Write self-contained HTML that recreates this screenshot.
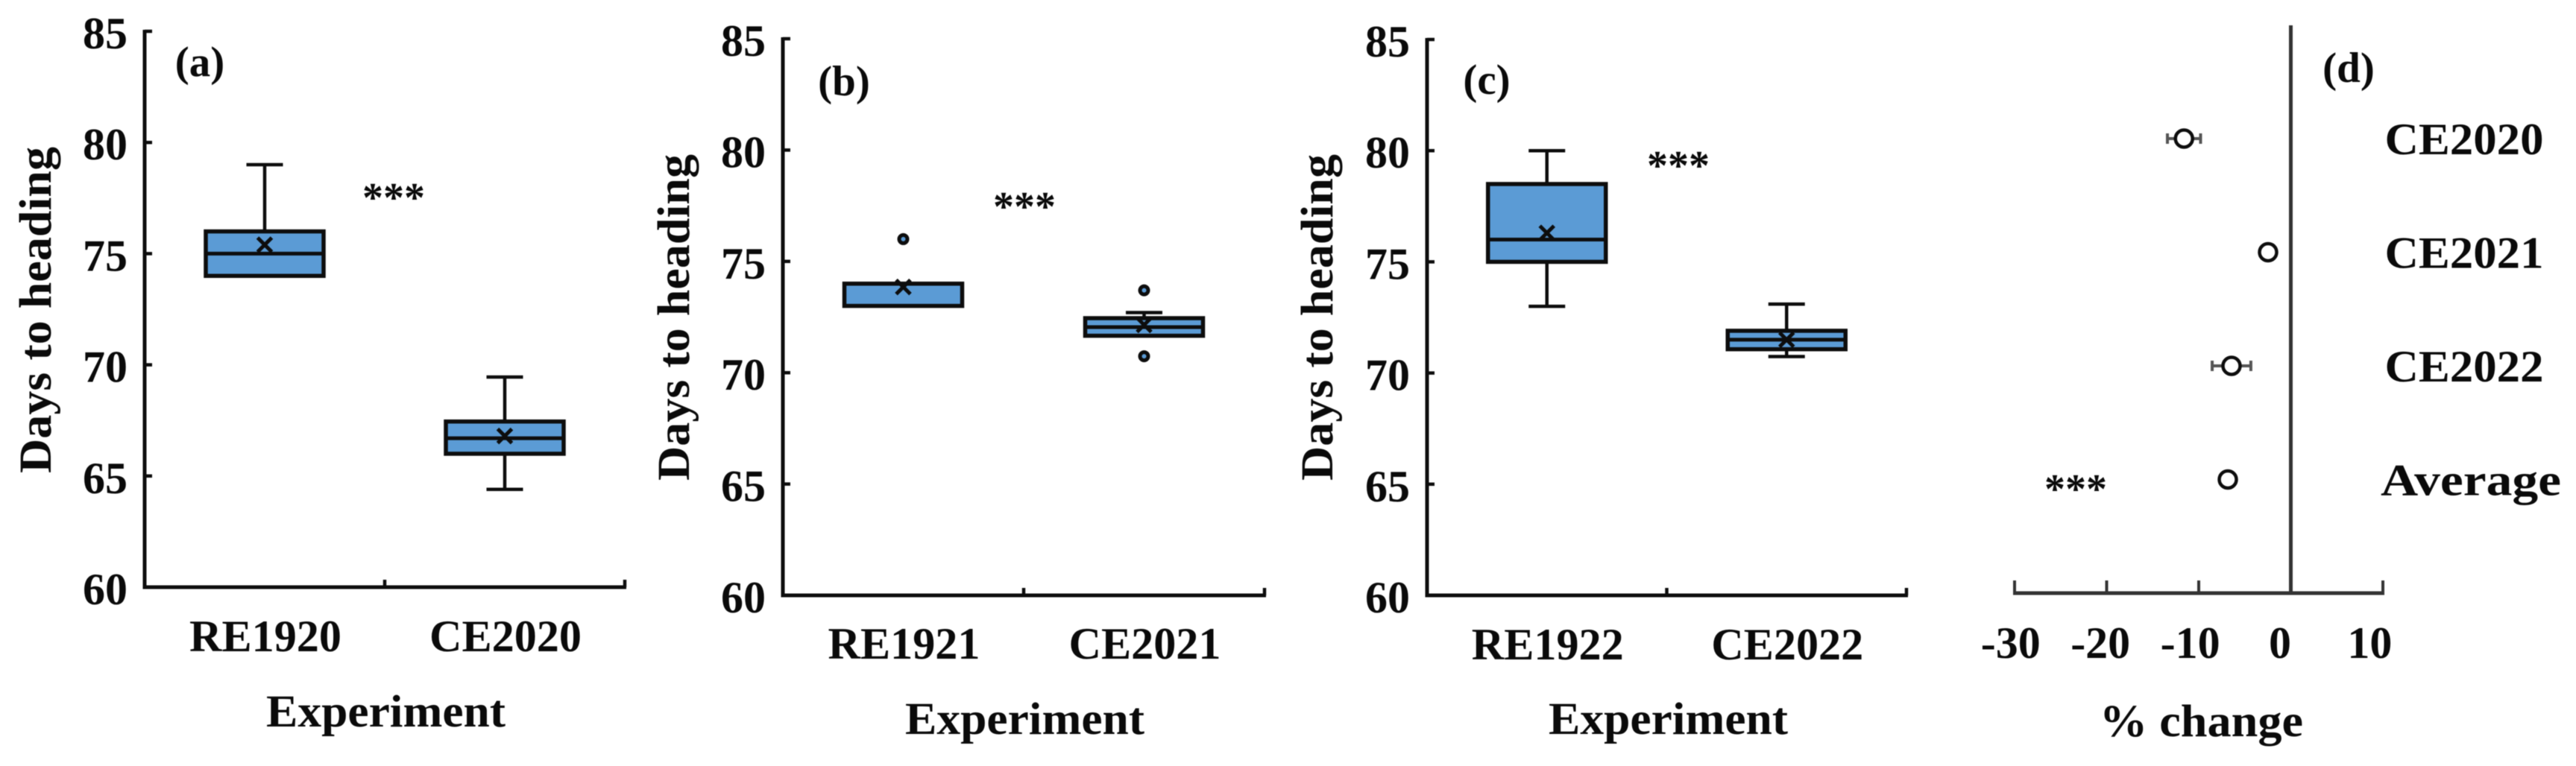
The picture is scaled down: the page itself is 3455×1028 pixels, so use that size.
<!DOCTYPE html>
<html lang="en">
<head>
<meta charset="utf-8">
<title>Days to heading by experiment</title>
<style>
  html, body { margin: 0; padding: 0; background: #fff; }
  body { width: 3455px; height: 1028px; overflow: hidden; }
  svg { display: block; filter: blur(0.6px); }
  text { font-family: "Liberation Serif", serif; font-weight: bold; fill: #0a0a0a; }
  .tick { font-size: 60px; }
  .title { font-size: 61px; }
  .panel-tag { font-size: 57px; }
  .stars { font-size: 56px; text-anchor: middle; }
</style>
</head>
<body>
<svg id="chart" xmlns="http://www.w3.org/2000/svg" width="3455" height="1028" viewBox="0 0 3455 1028">
  <rect x="0" y="0" width="3455" height="1028" fill="#ffffff"/>

  <text class="panel-tag" x="268" y="102" text-anchor="middle">(a)</text>
  <text class="panel-tag" x="1132" y="128" text-anchor="middle">(b)</text>
  <text class="panel-tag" x="1994" y="126" text-anchor="middle">(c)</text>
  <text class="panel-tag" x="3150" y="110" text-anchor="middle">(d)</text>

  <text class="stars" x="528" y="284">***</text>
  <text class="stars" x="1374" y="296">***</text>
  <text class="stars" x="2251" y="241">***</text>
  <text class="stars" x="2784" y="675">***</text>

  <text class="title" transform="translate(68 635) rotate(-90)" textLength="438" lengthAdjust="spacingAndGlyphs">Days to heading</text>
  <text class="title" transform="translate(924 645) rotate(-90)" textLength="438" lengthAdjust="spacingAndGlyphs">Days to heading</text>
  <text class="title" transform="translate(1787 645) rotate(-90)" textLength="438" lengthAdjust="spacingAndGlyphs">Days to heading</text>

  <text class="title" x="357" y="975" textLength="321" lengthAdjust="spacingAndGlyphs">Experiment</text>
  <text class="title" x="1214" y="985" textLength="321" lengthAdjust="spacingAndGlyphs">Experiment</text>
  <text class="title" x="2077" y="985" textLength="321" lengthAdjust="spacingAndGlyphs">Experiment</text>
  <text class="title" x="2816" y="988" textLength="273" lengthAdjust="spacingAndGlyphs">% change</text>
</svg>

<script>
// ---- Shared y axis of the box plots ----
const yTickValues = [60, 65, 70, 75, 80, 85];

// ---- Panel (a) ----
const aCategories = ['RE1920', 'CE2020'];
const aWhiskerLow = [74, 64.4];
const aQ1 = [74, 66];
const aMedian = [75, 66.7];
const aQ3 = [76, 67.45];
const aWhiskerHigh = [79, 69.45];
const aMean = [75.4, 66.8];
const aOutliers = [[], []];

// ---- Panel (b) ----
const bCategories = ['RE1921', 'CE2021'];
const bWhiskerLow = [73, 71.66];
const bQ1 = [73, 71.66];
const bMedian = [74, 72.05];
const bQ3 = [74, 72.45];
const bWhiskerHigh = [74, 72.7];
const bMean = [73.85, 72.15];
const bOutliers = [[76], [73.7, 70.74]];

// ---- Panel (c) ----
const cCategories = ['RE1922', 'CE2022'];
const cWhiskerLow = [73, 70.74];
const cQ1 = [75, 71.07];
const cMedian = [76, 71.5];
const cQ3 = [78.5, 71.9];
const cWhiskerHigh = [80, 73.1];
const cMean = [76.3, 71.5];
const cOutliers = [[], []];

// ---- Panel (d) ----
const dCategories = ['CE2020', 'CE2021', 'CE2022', 'Average'];
const dChange = [-11.6, -2.47, -6.44, -6.84];
const dError = [1.8, 0.3, 2.1, 0.3];
const dTicks = [-30, -20, -10, 0, 10];

const NS = 'http://www.w3.org/2000/svg';
const svg = document.getElementById('chart');
const INK = '#0d0d0d';
const FILL = '#5B9BD5';

function make(tag, attrs, parent) {
  const node = document.createElementNS(NS, tag);
  for (const key in attrs) node.setAttribute(key, attrs[key]);
  (parent || svg).appendChild(node);
  return node;
}
function lineAttrs(x1, y1, x2, y2, width, color) {
  return { x1: x1, y1: y1, x2: x2, y2: y2, stroke: color || INK, 'stroke-width': width };
}

function drawBoxPanel(id, frame, categories, low, q1, median, q3, high, mean, outliers) {
  const yScale = v => frame.bottom - (v - 60) * (frame.bottom - frame.top) / 25;
  const band = (frame.right - frame.left) / 2;
  const xScale = i => frame.left + (i + 0.5) * band;

  // axes
  const yAxis = make('line', lineAttrs(frame.left, frame.top - 2, frame.left, frame.bottom + 2.5, 5));
  
  
  const xAxis = make('line', lineAttrs(frame.left - 2, frame.bottom, frame.right + 2, frame.bottom, 5));
  
  

  yTickValues.forEach(v => {
    const y = yScale(v);
    const tick = make('line', lineAttrs(frame.left, y, frame.left + 10, y, 4.5));
    
    
    const label = make('text', { class: 'tick', x: frame.left - 23, y: y + 23, 'text-anchor': 'end' });
    label.textContent = v;
    
    
  });

  [1, 2].forEach(n => {
    const x = frame.left + n * band;
    const tick = make('line', lineAttrs(x, frame.bottom, x, frame.bottom - 10, 4.5));
    
    
  });

  categories.forEach((name, i) => {
    const cx = xScale(i);
    const label = make('text', { class: 'tick', x: cx + 1, y: frame.labelY, 'text-anchor': 'middle', textLength: 204, lengthAdjust: 'spacingAndGlyphs' });
    label.textContent = name;
    
    

    const whiskerUp = make('line', lineAttrs(cx, yScale(high[i]), cx, yScale(q3[i]), 4.5));
    
    
    const capUp = make('line', lineAttrs(cx - 24.5, yScale(high[i]), cx + 24.5, yScale(high[i]), 4.5));
    
    
    const whiskerDown = make('line', lineAttrs(cx, yScale(q1[i]), cx, yScale(low[i]), 4.5));
    
    
    const capDown = make('line', lineAttrs(cx - 24.5, yScale(low[i]), cx + 24.5, yScale(low[i]), 4.5));
    
    

    const box = make('rect', {
      x: cx - 79, y: yScale(q3[i]), width: 158, height: yScale(q1[i]) - yScale(q3[i]),
      fill: FILL, stroke: INK, 'stroke-width': 5.5
    });
    
    

    const med = make('line', lineAttrs(cx - 79, yScale(median[i]), cx + 79, yScale(median[i]), 5));
    
    

    const my = yScale(mean[i]);
    const meanMark = make('path', {
      d: 'M' + (cx - 9.5) + ' ' + (my - 9.5) + 'L' + (cx + 9.5) + ' ' + (my + 9.5) +
         'M' + (cx - 9.5) + ' ' + (my + 9.5) + 'L' + (cx + 9.5) + ' ' + (my - 9.5),
      stroke: INK, 'stroke-width': 5, fill: 'none'
    });
    
    

    outliers[i].forEach((v, k) => {
      const dot = make('circle', { cx: cx, cy: yScale(v), r: 5.5, fill: FILL, stroke: INK, 'stroke-width': 5 });
      
      
    });
  });
}

drawBoxPanel('panel-a', { left: 194, right: 838, top: 42, bottom: 788, labelY: 874 },
  aCategories, aWhiskerLow, aQ1, aMedian, aQ3, aWhiskerHigh, aMean, aOutliers);
drawBoxPanel('panel-b', { left: 1050, right: 1696, top: 52, bottom: 799, labelY: 884 },
  bCategories, bWhiskerLow, bQ1, bMedian, bQ3, bWhiskerHigh, bMean, bOutliers);
drawBoxPanel('panel-c', { left: 1914, right: 2557, top: 53, bottom: 799, labelY: 885 },
  cCategories, cWhiskerLow, cQ1, cMedian, cQ3, cWhiskerHigh, cMean, cOutliers);

// Panel (d): percentage-change forest plot
(function drawChangePanel() {
  const DARK = '#333333';
  const xScale = v => 3072.5 + v * 12.35;
  const tickLabelX = v => 3058 + v * 12.04;
  const rowY = i => 186 + i * 152.5;
  const axisY = 796;

  const xAxis = make('line', lineAttrs(xScale(-30) - 2, axisY, xScale(10) + 2, axisY, 5, DARK));
  
  
  const zeroLine = make('line', lineAttrs(xScale(0), 34, xScale(0), axisY, 5, DARK));
  
  

  dTicks.forEach(v => {
    const tick = make('line', lineAttrs(xScale(v), axisY, xScale(v), axisY - 17, 4, DARK));
    
    
    const label = make('text', { class: 'tick', x: tickLabelX(v), y: 883, 'text-anchor': 'middle' });
    label.textContent = v;
    
    
  });

  dCategories.forEach((name, i) => {
    const y = rowY(i);
    const isAverage = name === 'Average';
    const label = make('text', {
      class: 'tick', x: isAverage ? 3314 : 3305, y: y + 21, 'text-anchor': 'middle',
      textLength: isAverage ? 242 : 213, lengthAdjust: 'spacingAndGlyphs'
    });
    label.textContent = name;
    
    

    const lo = xScale(dChange[i] - dError[i]);
    const hi = xScale(dChange[i] + dError[i]);
    const bar = make('path', {
      d: 'M' + lo + ' ' + y + 'L' + hi + ' ' + y +
         'M' + lo + ' ' + (y - 7) + 'L' + lo + ' ' + (y + 7) +
         'M' + hi + ' ' + (y - 7) + 'L' + hi + ' ' + (y + 7),
      stroke: '#555555', 'stroke-width': 4, fill: 'none'
    });
    
    

    const point = make('circle', { cx: xScale(dChange[i]), cy: y, r: 11.5, fill: '#ffffff', stroke: INK, 'stroke-width': 4.5 });
    
    
  });
})();
</script>
</body>
</html>
